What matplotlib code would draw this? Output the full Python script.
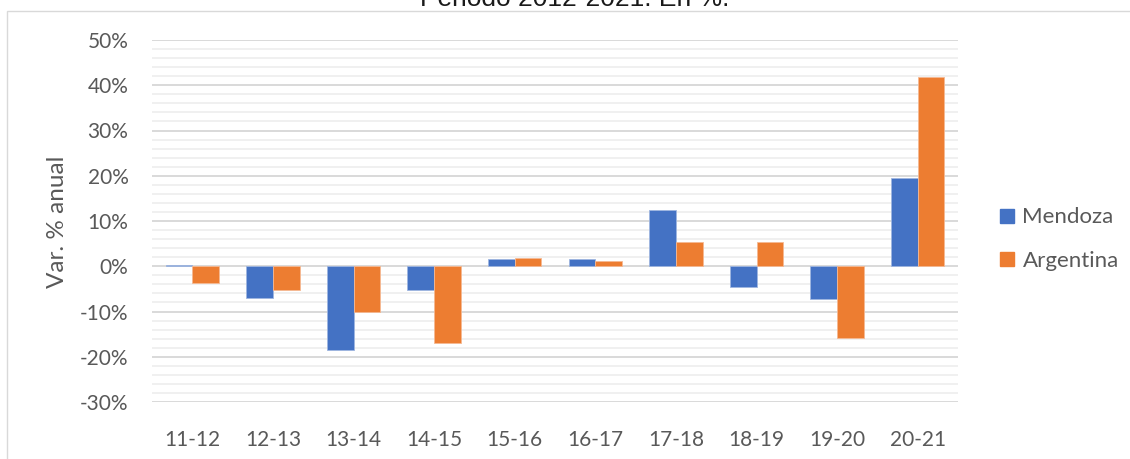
import matplotlib
matplotlib.use("Agg")
import matplotlib.pyplot as plt
import numpy as np
from matplotlib.lines import Line2D
from matplotlib.patches import Rectangle
from matplotlib.ticker import MultipleLocator, FuncFormatter

categories = ["11-12", "12-13", "13-14", "14-15", "15-16", "16-17", "17-18", "18-19", "19-20", "20-21"]
mendoza = [0.3, -7.0, -18.5, -5.2, 1.7, 1.7, 12.5, -4.6, -7.3, 19.5]
argentina = [-3.6, -5.2, -10.0, -17.0, 1.8, 1.2, 5.3, 5.3, -15.8, 41.9]
series_names = ["Mendoza", "Argentina"]
colors = ["#4472C4", "#ED7D31"]
title = "Periodo 2012-2021. En %."
ylabel = "Var. % anual"

W, H = 1130, 459
fig = plt.figure(figsize=(W / 100, H / 100), dpi=100)

# chart frame
fig.patches.append(Rectangle((7 / W, -0.1), 1.2, 1 - 11.5 / H + 0.1, transform=fig.transFigure,
                             fill=False, edgecolor="#d9d9d9", linewidth=1.0, zorder=0))

ax = fig.add_axes([152 / W, 1 - 402 / H, (958 - 152) / W, (402 - 40) / H])
x = np.arange(len(categories))
bw = 0.331
ax.bar(x - bw / 2, mendoza, bw, color=colors[0], edgecolor="#9fb6e0", linewidth=0.6, zorder=3)
ax.bar(x + bw / 2, argentina, bw, color=colors[1], edgecolor="#f5b993", linewidth=0.6, zorder=3)

ax.set_xlim(-0.5, len(categories) - 0.5)
ax.set_ylim(-30, 50)
ax.yaxis.set_major_locator(MultipleLocator(10))
ax.yaxis.set_minor_locator(MultipleLocator(2))
ax.yaxis.set_major_formatter(FuncFormatter(lambda v, p: f"{v:.0f}%"))
ax.grid(which="major", axis="y", color="#d9d9d9", linewidth=1.4, zorder=1)
ax.grid(which="minor", axis="y", color="#f0f0f0", linewidth=1.4, zorder=0)
ax.set_axisbelow(True)
for s in ax.spines.values():
    s.set_visible(False)
ax.set_xticks(x)
ax.set_xticklabels(categories)
ax.tick_params(axis="both", which="both", length=0)
ax.tick_params(axis="y", pad=17)
ax.tick_params(axis="x", pad=20)
for lab in ax.get_xticklabels() + ax.get_yticklabels():
    lab.set_fontfamily("Lato")
    lab.set_fontsize(15)
    lab.set_color("#595959")

fig.text(57 / W, 1 - 222 / H, ylabel, rotation=90, ha="center", va="center",
         fontfamily="Lato", fontsize=17.5, color="#595959")

fig.text(575 / W, 1 - 6.5 / H, title, ha="center", va="baseline",
         fontfamily="Liberation Sans", fontsize=19, color="#1a1a1a")

handles = [Line2D([], [], linestyle="none", marker="s", markersize=10, color=c) for c in colors]
leg = fig.legend(handles, series_names, loc="center left", bbox_to_anchor=(978 / W, 1 - 239 / H),
                 frameon=False, handlelength=0.8, handletextpad=0.3, labelspacing=1.05,
                 prop={"family": "Lato", "size": 16})
for t in leg.get_texts():
    t.set_color("#595959")

fig.savefig("out.png", dpi=100)
